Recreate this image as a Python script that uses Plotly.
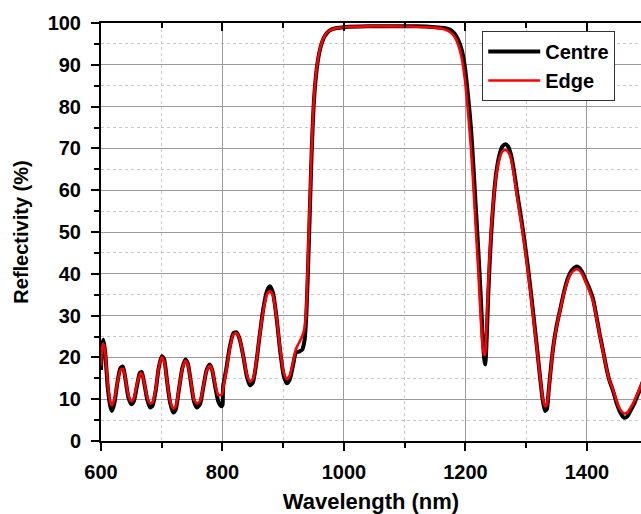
import plotly.graph_objects as go

# Wavelength grid (nm)
wavelength = [
    600, 602, 604, 607, 611, 615, 618, 622, 627, 632, 636, 640, 645, 650, 654, 659,
    664, 667, 671, 676, 681, 685, 690, 695, 700, 704, 709, 714, 719, 723, 728, 734,
    739, 743, 748, 753, 758, 763, 768, 774, 779, 783, 788, 793, 798, 800, 801, 806,
    812, 818, 823, 828, 834, 840, 845, 850, 855, 861, 867, 873, 878, 883, 889, 895,
    901, 906, 911, 916, 921, 926, 931, 935, 938, 941, 944, 947, 950, 953, 957, 962,
    968, 976, 988, 1000, 1040, 1080, 1120, 1150, 1165, 1175, 1182, 1188, 1194, 1199, 1204, 1209,
    1213, 1217, 1221, 1225, 1228, 1231, 1232.5, 1234, 1237, 1240, 1243, 1247, 1251, 1256, 1261, 1266,
    1270, 1275, 1280, 1286, 1292, 1297, 1302, 1307, 1312, 1318, 1323, 1327, 1331, 1334, 1337, 1341,
    1345, 1350, 1356, 1362, 1368, 1375, 1382, 1386, 1392, 1398, 1404, 1410, 1416, 1421, 1426, 1432,
    1437, 1443, 1449, 1455, 1461, 1466, 1472, 1478, 1483, 1489, 1495,
]

# Reflectivity (%) at the centre of the sample
centre = [
    17, 23, 24.2, 21, 13, 8.5, 7.2, 9, 14, 17.5, 17.8, 15, 10.5, 8.8, 9.5, 13,
    16.3, 16.5, 14, 10, 8, 8.5, 12, 17.5, 20.3, 19.5, 14, 9, 6.8, 7.5, 12, 17.5,
    19.5, 18.5, 14, 9.5, 8, 8.8, 12.5, 17, 18.3, 17, 13, 9.5, 8.3, 8.6, 13, 17,
    22.5, 25.8, 26, 24.5, 20.5, 15.5, 13.3, 14, 18, 25, 31.5, 35.8, 37, 35.5, 29.5, 21.5,
    15.5, 13.8, 14.8, 18, 21.2, 21.4, 21.8, 24, 30, 42, 56, 70, 80, 86, 91, 94.5,
    96.8, 98.2, 98.8, 99, 99.2, 99.2, 99.2, 99, 98.8, 98.4, 97.5, 96, 93.5, 89.5, 83, 75,
    66, 56, 46, 35, 26, 19.5, 18.3, 21, 33, 43, 51, 59, 64.5, 68.5, 70.5, 71,
    70.5, 68.5, 64.5, 58.5, 53, 48, 42.5, 36.5, 30, 22, 15, 10, 7.2, 7.6, 12, 18,
    23, 27.5, 31.5, 35.5, 38.7, 40.8, 41.7, 41.6, 40.5, 38.5, 36.5, 34, 29.5, 25.5, 22, 17.5,
    14.5, 12, 9, 6.8, 5.6, 5.8, 7.3, 9, 10.8, 13, 15.5,
]

# Reflectivity (%) at the edge of the sample
edge = [
    18, 22.5, 23.3, 21, 14, 9.5, 8.5, 10, 14, 17, 17.3, 15, 11, 9.5, 10.2, 13.5,
    16, 16.2, 14, 10.5, 9, 9.3, 12.5, 17.5, 20, 19, 14, 9.5, 7.8, 8.3, 12.3, 17.3,
    19.2, 18.2, 14.2, 10, 9, 9.5, 12.8, 16.8, 18, 17, 13.5, 11, 11, 11.5, 12.5, 16.5,
    22, 25.5, 25.8, 24.5, 20.5, 16, 14.2, 14.8, 18.3, 25, 31, 35, 35.8, 34.8, 29.5, 22,
    16.3, 14.8, 15.8, 18.8, 22, 23.5, 25, 27, 32, 45, 58, 71, 80.5, 86.5, 91.2, 94.7,
    96.9, 98.2, 98.8, 99, 99.2, 99.2, 99.1, 98.9, 98.5, 97.8, 96.7, 94.8, 91.5, 86.5, 79, 70,
    61, 51, 41, 30, 23, 20.5, 21, 25, 36, 45, 52, 59, 64, 67.5, 69.3, 69.6,
    69.2, 67.5, 63.5, 57.5, 52, 47, 41.5, 35.5, 29, 21.5, 15, 10.5, 8.3, 8.6, 12, 18,
    23, 27.3, 31.3, 35.2, 38.3, 40.3, 41.1, 41, 40, 38, 36, 33.5, 29.2, 25.3, 21.8, 17.5,
    14.5, 12.3, 9.5, 7.5, 6.6, 6.8, 8, 9.6, 11.3, 13.3, 15.5,
]

series_names = ["Centre", "Edge"]
x_range = [600, 1489]
y_range = [0, 100]

FONT = "Liberation Sans, Arial, sans-serif"

fig = go.Figure()
fig.add_trace(go.Scatter(
    x=wavelength, y=centre, name=series_names[0], mode="lines",
    line=dict(color="black", width=4, shape="spline", smoothing=0.6),
))
# drawn on the overlaying top axis (same range) so that its inward ticks render
fig.add_trace(go.Scatter(
    x=wavelength, y=edge, name=series_names[1], mode="lines", xaxis="x2",
    line=dict(color="#ff0000", width=2.6, shape="spline", smoothing=0.6),
))

axis_common = dict(
    showline=True, linecolor="black", linewidth=2,
    ticks="outside", ticklen=8, tickwidth=2, tickcolor="black",
    showgrid=True, gridcolor="#9a9a9a", gridwidth=1,
    zeroline=False, automargin=False,
    tickfont=dict(family=FONT, size=20, color="black", weight="bold"),
)

fig.update_layout(
    width=641, height=514,
    margin=dict(l=101, r=0, t=23, b=73, autoexpand=False),
    paper_bgcolor="white", plot_bgcolor="white",
    showlegend=True,
    legend=dict(
        x=0.706, y=0.981, xanchor="left", yanchor="top",
        bgcolor="white", bordercolor="#333333", borderwidth=1,
        font=dict(family=FONT, size=20, color="black", weight="bold"),
        itemwidth=52, tracegroupgap=0,
    ),
    xaxis=dict(
        range=x_range, dtick=200, tick0=600, mirror=True,
        minor=dict(dtick=100, ticks="outside", ticklen=5, tickwidth=2, tickcolor="black",
                   showgrid=True, gridcolor="#c8c8c8", griddash="dot", gridwidth=1),
        title=dict(text="Wavelength (nm)", standoff=18,
                   font=dict(family=FONT, size=22, color="black", weight="bold")),
        ticklabelstandoff=4,
        **axis_common,
    ),
    yaxis=dict(
        range=y_range, dtick=10, tick0=0, mirror=False,
        minor=dict(dtick=5, ticks="outside", ticklen=5, tickwidth=2, tickcolor="black",
                   showgrid=True, gridcolor="#c8c8c8", griddash="dot", gridwidth=1),
        title=dict(text="Reflectivity (%)", standoff=14,
                   font=dict(family=FONT, size=20, color="black", weight="bold")),
        ticklabelstandoff=6,
        **axis_common,
    ),
    xaxis2=dict(
        overlaying="x", side="top", range=x_range, dtick=200, tick0=600,
        ticks="inside", ticklen=8, tickwidth=2, tickcolor="black",
        minor=dict(dtick=100, ticks="inside", ticklen=5, tickwidth=2, tickcolor="black"),
        showticklabels=False, showgrid=False, zeroline=False, showline=False,
        automargin=False,
    ),
)

fig.write_html(
    "out.html",
    config={"displayModeBar": False},
    post_script="document.body.style.margin='0';document.body.style.padding='0';",
)
